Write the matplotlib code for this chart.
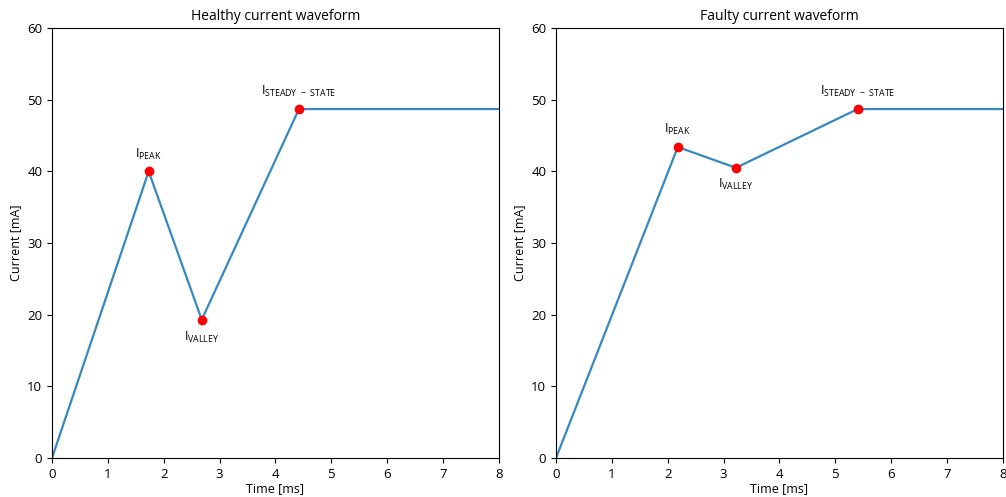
import matplotlib
matplotlib.use("Agg")
import matplotlib.pyplot as plt

plt.rcParams['font.family'] = ['Open Sans', 'DejaVu Sans']
plt.rcParams['mathtext.default'] = 'regular'
plt.rcParams['font.size'] = 9.5

# Healthy waveform: start, peak, valley, steady-state, end
healthy_t = [0.0, 1.73, 2.68, 4.42, 8.0]
healthy_i = [0.0, 40.0, 19.3, 48.7, 48.7]

# Faulty waveform
faulty_t = [0.0, 2.18, 3.22, 5.40, 8.0]
faulty_i = [0.0, 43.4, 40.5, 48.7, 48.7]

labels = [r'$I_{PEAK}$', r'$I_{VALLEY}$', '$I_{STEADY\\ \u2212\\ STATE}$']
healthy_offsets = [(0, 12), (0, -13), (0, 13)]
faulty_offsets = [(0, 13), (0, -12), (0, 13)]

line_color = '#3688c0'

fig = plt.figure(figsize=(10.06, 4.97), dpi=100)
ax1 = fig.add_axes([0.0517, 0.0785, 0.4443, 0.865])
ax2 = fig.add_axes([0.5527, 0.0785, 0.4443, 0.865])

panels = [
    (ax1, healthy_t, healthy_i, healthy_offsets, 'Healthy current waveform'),
    (ax2, faulty_t, faulty_i, faulty_offsets, 'Faulty current waveform'),
]

for ax, t, i, offs, title in panels:
    ax.plot(t, i, color=line_color, lw=1.6)
    ax.plot(t[1:4], i[1:4], 'o', color='red', ms=6, zorder=3)
    for k, (lab, off) in enumerate(zip(labels, offs)):
        ax.annotate(lab, (t[k + 1], i[k + 1]), textcoords='offset points',
                    xytext=off, ha='center', va='center', fontsize=9)
    ax.set_xlim(0, 8)
    ax.set_ylim(0, 60)
    ax.set_xticks(range(0, 9))
    ax.set_yticks(range(0, 61, 10))
    ax.set_xlabel('Time [ms]', fontsize=9, labelpad=1)
    ax.set_ylabel('Current [mA]', fontsize=9)
    ax.set_title(title, fontsize=10)

fig.savefig('out.png', dpi=100)
